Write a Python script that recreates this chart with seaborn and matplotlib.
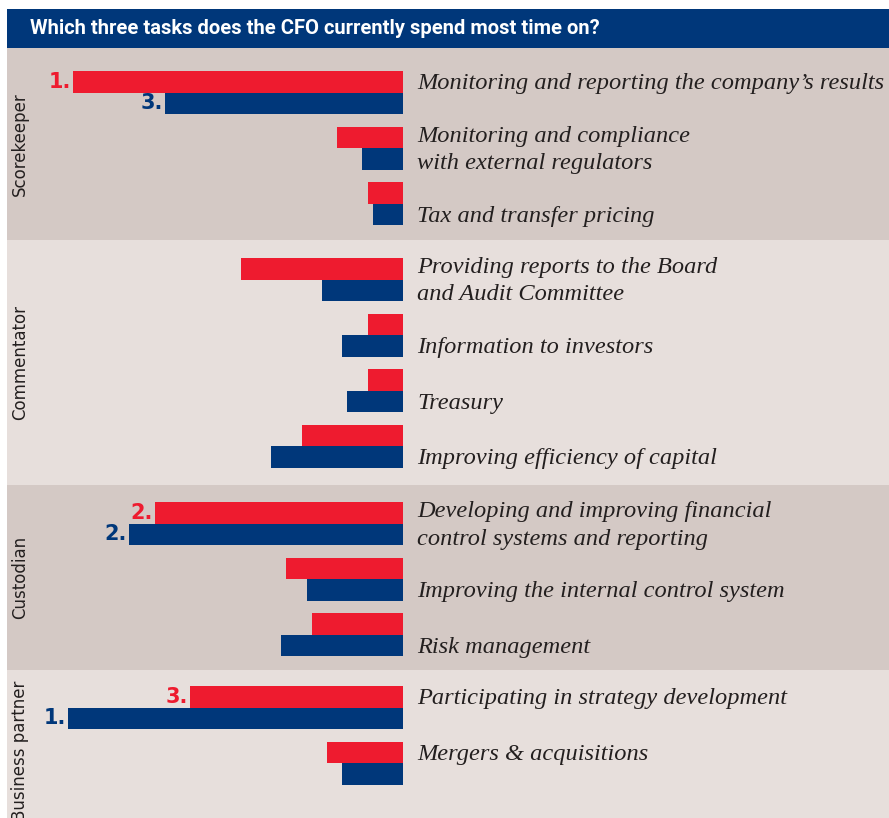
import matplotlib
matplotlib.use("Agg")
import matplotlib.pyplot as plt
import numpy as np
import pandas as pd
import seaborn as sns

# ---- data -------------------------------------------------------------
title = "Which three tasks does the CFO currently spend most time on?"

groups = ["Scorekeeper", "Commentator", "Custodian", "Business partner"]
group_sizes = [3, 4, 3, 2]

tasks = [
    "Monitoring and reporting the company\u2019s results",
    "Monitoring and compliance\nwith external regulators",
    "Tax and transfer pricing",
    "Providing reports to the Board\nand Audit Committee",
    "Information to investors",
    "Treasury",
    "Improving efficiency of capital",
    "Developing and improving financial\ncontrol systems and reporting",
    "Improving the internal control system",
    "Risk management",
    "Participating in strategy development",
    "Mergers & acquisitions",
]

# share of respondents (%) for the two series
pct_red = [65, 13, 7, 32, 7, 7, 20, 49, 23, 18, 42, 15]
pct_blue = [47, 8, 6, 16, 12, 11, 26, 54, 19, 24, 66, 12]

# rank markers shown next to the top-3 bars of each series
rank_red = {0: "1.", 7: "2.", 10: "3."}
rank_blue = {10: "1.", 7: "2.", 0: "3."}

# ---- layout (pixel based) ----------------------------------------------
W, H = 889, 818
PX_PER_PCT = 5.07
BASE_X = 403                       # pixel column where bars start
BAR_H = 21.5
ROW_PITCH = 55.5
group_first_top = [71, 258, 502, 686]
band_edges = [47.5, 240, 485, 670, 818]
band_colors = ["#d4c9c5", "#e7dfdc", "#d4c9c5", "#e7dfdc"]
label_anchor = [0, 0.5, 1, 0.5, 1, 1, 1, 0.5, 1, 1, 0, 0]

RED = "#ee1b2f"
NAVY = "#00377a"
TEXT = "#231f1f"


def px_x(px):
    """Convert a horizontal pixel column into the value axis."""
    return (BASE_X - px) / PX_PER_PCT


row_top = []
for g, n in enumerate(group_sizes):
    for i in range(n):
        row_top.append(group_first_top[g] + i * ROW_PITCH)
row_top = np.array(row_top)

df = pd.DataFrame({
    "value": pct_red + pct_blue,
    "ypos": list(row_top + BAR_H / 2) + list(row_top + 1.5 * BAR_H),
    "series": ["red"] * len(pct_red) + ["blue"] * len(pct_blue),
})

fig = plt.figure(figsize=(W / 100, H / 100), dpi=100)
fig.patch.set_facecolor("white")
ax = fig.add_axes([0, 0, 1, 1])
ax.set_facecolor("white")

# background bands and title strip
x0 = 7 / W
for (y0, y1), c in zip(zip(band_edges[:-1], band_edges[1:]), band_colors):
    ax.axhspan(y0, y1, xmin=x0, xmax=1, color=c, lw=0, zorder=0)
ax.axhspan(8.5, 47.5, xmin=x0, xmax=1, color=NAVY, lw=0, zorder=0)

sns.barplot(
    data=df, x="value", y="ypos", hue="series", orient="h",
    native_scale=True, dodge=False, width=1.0, saturation=1,
    palette={"red": RED, "blue": NAVY}, errorbar=None, legend=False,
    linewidth=0, ax=ax, zorder=2,
)

ax.set_xlim(px_x(0), px_x(W))
ax.set_ylim(H, 0)
ax.axis("off")

# title
ax.text(px_x(30), 28.5, title, color="white", fontsize=14.5, fontweight="bold",
        family=["Roboto", "DejaVu Sans"], ha="left", va="center")

# group labels
group_centers = [(band_edges[i] + band_edges[i + 1]) / 2 for i in range(3)]
for g, name in enumerate(groups[:3]):
    ax.text(px_x(20), group_centers[g], name, rotation=90, fontsize=12,
            color=TEXT, ha="center", va="center", family="DejaVu Sans")
ax.text(px_x(20), 681, groups[3], rotation=90, fontsize=12,
        color=TEXT, ha="center", va="top", family="DejaVu Sans")

# task labels
LINE_GAP = 27
for i, lab in enumerate(tasks):
    anchor = row_top[i] + BAR_H / 2 + label_anchor[i] * BAR_H
    lines = lab.split("\n")
    n = len(lines)
    for j, line in enumerate(lines):
        yc = anchor + (j - (n - 1) / 2) * LINE_GAP
        ax.text(px_x(417), yc + 7.5, line, fontsize=17.6, style="italic",
                family="Liberation Serif", color=TEXT, ha="left", va="baseline")

# rank markers
for i, r in rank_red.items():
    ax.text(pct_red[i] + 0.4, row_top[i] + BAR_H / 2, r, color=RED,
            fontsize=15, fontweight="bold", ha="right", va="center",
            family="DejaVu Sans")
for i, r in rank_blue.items():
    ax.text(pct_blue[i] + 0.4, row_top[i] + 1.5 * BAR_H, r, color=NAVY,
            fontsize=15, fontweight="bold", ha="right", va="center",
            family="DejaVu Sans")

fig.savefig("out.png", dpi=100)
